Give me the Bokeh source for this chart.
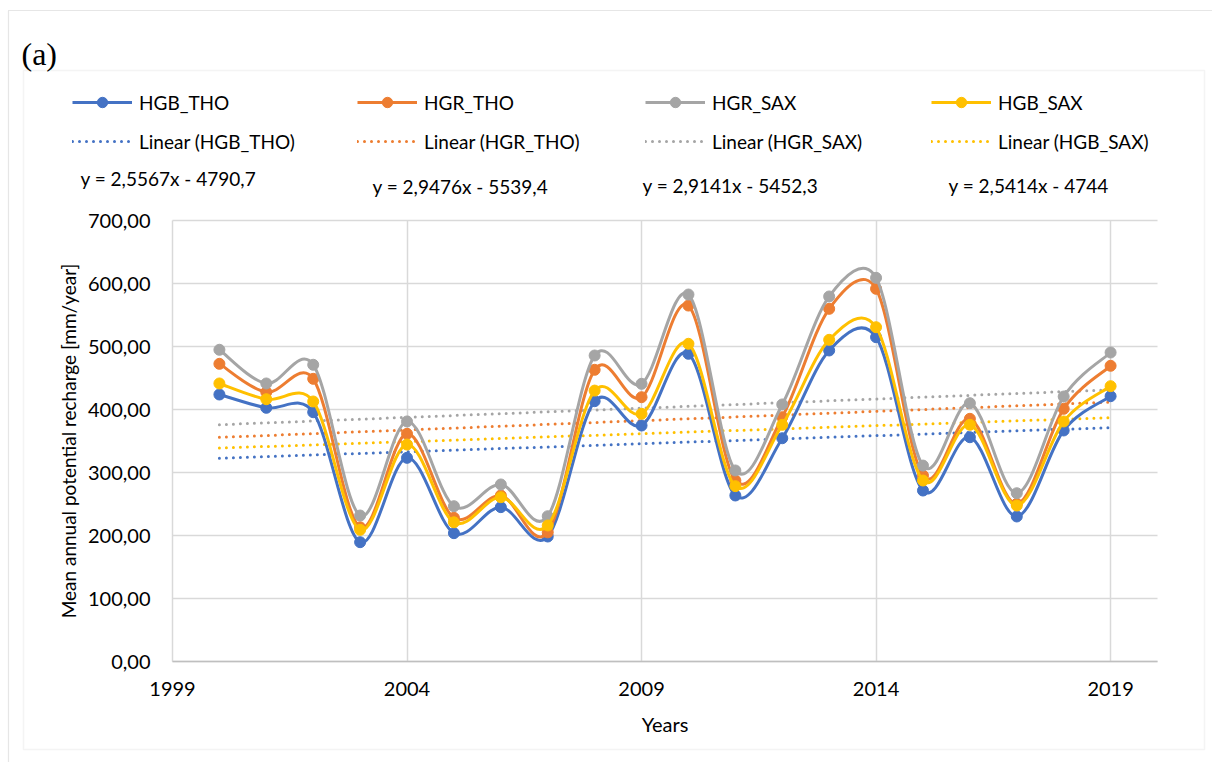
import numpy as np
from bokeh.plotting import figure
from bokeh.models import (FixedTicker, Legend, LegendItem, Label, BoxAnnotation, Range1d)
from bokeh.embed import file_html
from bokeh.resources import INLINE

# ---- data -------------------------------------------------------------
years = list(range(2000, 2020))

hgb_tho = [423.8, 402.7, 395.7, 189.4, 323.3, 203.7, 245.0, 198.4, 413.2, 374.6,
           488.4, 263.5, 354.4, 493.7, 514.8, 271.4, 356.0, 230.2, 366.7, 421.1]
hgr_tho = [472.5, 427.5, 448.7, 213.0, 361.4, 228.0, 263.5, 205.0, 463.0, 419.5,
           565.0, 287.3, 387.8, 559.8, 591.6, 295.2, 385.2, 250.3, 401.1, 469.4]
hgr_sax = [494.8, 441.3, 471.0, 231.7, 381.0, 246.5, 281.0, 230.6, 485.7, 440.8,
           582.5, 303.2, 408.0, 579.4, 609.0, 311.0, 410.0, 267.1, 420.6, 490.5]
hgb_sax = [441.3, 416.3, 412.7, 209.0, 344.4, 221.0, 260.8, 215.9, 430.0, 393.2,
           504.3, 278.3, 375.7, 510.6, 530.6, 287.3, 375.7, 247.6, 381.0, 437.0]

series_names = ["HGB_THO", "HGR_THO", "HGR_SAX", "HGB_SAX"]
series_values = [hgb_tho, hgr_tho, hgr_sax, hgb_sax]
series_colors = ["#4472C4", "#ED7D31", "#A5A5A5", "#FFC000"]

# linear trend lines  y = a*x + b
trend_slopes = [2.5567, 2.9476, 2.9141, 2.5414]
trend_intercepts = [-4790.7, -5539.4, -5452.3, -4744.0]
equation_labels = ["y = 2,5567x - 4790,7", "y = 2,9476x - 5539,4",
                   "y = 2,9141x - 5452,3", "y = 2,5414x - 4744"]

x_ticks = [1999, 2004, 2009, 2014, 2019]
x_tick_labels = ["1999", "2004", "2009", "2014", "2019"]
y_ticks = [0, 100, 200, 300, 400, 500, 600, 700]
y_tick_labels = ["0,00", "100,00", "200,00", "300,00", "400,00", "500,00", "600,00", "700,00"]

X_MIN, X_MAX = 1999, 2020
Y_MIN, Y_MAX = 0, 700

# ---- styling / page geometry (pixels) ----------------------------------
FONT = "Lato"
TEXT_SIZE = "19px"
TICK_SIZE = "20px"
W, H = 1212, 762
PLOT_L, PLOT_R, PLOT_T, PLOT_B = 172, 1157, 220, 661      # plot area on the page
BOX_L, BOX_R, BOX_T, BOX_B = 23, 1204, 70, 749             # chart area outline
PAGE_L, PAGE_T = 8, 10                                     # dotted page edge

# the drawing frame covers the whole page; the data ranges are extended so the
# axis span lands on the plot area
px_per_x = (PLOT_R - PLOT_L) / (X_MAX - X_MIN)
px_per_y = (PLOT_B - PLOT_T) / (Y_MAX - Y_MIN)
x_range = Range1d(X_MIN - PLOT_L / px_per_x, X_MAX + (W - PLOT_R) / px_per_x)
y_range = Range1d(Y_MIN - (H - PLOT_B) / px_per_y, Y_MAX + PLOT_T / px_per_y)


def smooth_segments(xs, ys, f=1.0 / 6.0):
    """Bezier control points of a smoothed polyline (Catmull-Rom tangents,
    limited to half of the segment length on screen)."""
    x = np.asarray(xs, dtype=float)
    y = np.asarray(ys, dtype=float)
    n = len(x)
    i = np.arange(n - 1)
    prev = np.maximum(i - 1, 0)
    nxt = np.minimum(i + 2, n - 1)
    seg = np.hypot((x[i + 1] - x[i]) * px_per_x, (y[i + 1] - y[i]) * px_per_y)

    def limited(dx, dy):
        length = np.hypot(dx * px_per_x, dy * px_per_y)
        scale = np.where(length > seg / 2, (seg / 2) / np.maximum(length, 1e-9), 1.0)
        return dx * scale, dy * scale

    t0x, t0y = limited((x[i + 1] - x[prev]) * f, (y[i + 1] - y[prev]) * f)
    t1x, t1y = limited((x[nxt] - x[i]) * f, (y[nxt] - y[i]) * f)
    return dict(x0=x[i], y0=y[i], x1=x[i + 1], y1=y[i + 1],
                cx0=x[i] + t0x, cy0=y[i] + t0y,
                cx1=x[i + 1] - t1x, cy1=y[i + 1] - t1y)


p = figure(width=W, height=H, output_backend="svg", toolbar_location=None,
           x_range=x_range, y_range=y_range, min_border=0)
p.outline_line_color = None
p.background_fill_color = "white"
p.border_fill_color = "white"

# ---- axes & grid --------------------------------------------------------
p.xaxis.fixed_location = Y_MIN
p.xaxis.bounds = (X_MIN, X_MAX)
p.yaxis.fixed_location = X_MIN
p.yaxis.bounds = (Y_MIN, Y_MAX)

p.xaxis.ticker = FixedTicker(ticks=x_ticks)
p.xaxis.major_label_overrides = dict(zip(x_ticks, x_tick_labels))
p.yaxis.ticker = FixedTicker(ticks=y_ticks)
p.yaxis.major_label_overrides = dict(zip(y_ticks, y_tick_labels))
p.xgrid.ticker = FixedTicker(ticks=x_ticks)
p.ygrid.ticker = FixedTicker(ticks=y_ticks)
p.xgrid.bounds = (X_MIN, X_MAX)
p.xgrid.cross_bounds = (Y_MIN, Y_MAX)
p.ygrid.bounds = (Y_MIN, Y_MAX)
p.ygrid.cross_bounds = (X_MIN, X_MAX)

for g in (p.xgrid, p.ygrid):
    g.grid_line_color = "#D9D9D9"
    g.grid_line_width = 1.5

for ax in (p.xaxis, p.yaxis):
    ax.major_tick_line_color = None
    ax.minor_tick_line_color = None
    ax.major_tick_out = 0
    ax.major_tick_in = 0
    ax.minor_tick_out = 0
    ax.major_label_text_font = FONT
    ax.major_label_text_font_size = TICK_SIZE
    ax.major_label_text_color = "black"
    ax.axis_label_text_font = FONT
    ax.axis_label_text_font_style = "normal"
    ax.axis_label_text_color = "black"

p.xaxis.axis_line_color = "#BFBFBF"
p.xaxis.axis_line_width = 1.5
p.xaxis.major_label_standoff = 20
p.xaxis.axis_label = "Years"
p.xaxis.axis_label_text_font_size = TICK_SIZE
p.xaxis.axis_label_standoff = 13

p.yaxis.axis_line_color = None
p.yaxis.major_label_standoff = 22
p.yaxis.axis_label = "Mean annual potential recharge [mm/year]"
p.yaxis.axis_label_text_font_size = "19px"
p.yaxis.axis_label_standoff = 5

# ---- chart area outline and dotted page edge ----------------------------
p.add_layout(BoxAnnotation(left=BOX_L, right=BOX_R, top=H - BOX_T, bottom=H - BOX_B,
                           left_units="screen", right_units="screen",
                           top_units="screen", bottom_units="screen",
                           fill_alpha=0, line_color="#D9D9D9", line_width=1.5,
                           level="underlay"))
p.add_layout(BoxAnnotation(left=PAGE_L, right=W + 20, top=H - PAGE_T, bottom=-20,
                           left_units="screen", right_units="screen",
                           top_units="screen", bottom_units="screen",
                           fill_alpha=0, line_color="#595959", line_width=1.2,
                           line_dash="1 1", level="underlay"))

# ---- trend lines first, so the series sit on top of them -----------------
trend_x = np.array([years[0], years[-1]], dtype=float)
TREND_STYLE = dict(line_width=3, line_dash="0 7", line_cap="round")
trend_renderers = []
for a, b, c in zip(trend_slopes, trend_intercepts, series_colors):
    trend_renderers.append(p.line(trend_x, a * trend_x + b, line_color=c, **TREND_STYLE))

marker_renderers, swatch_renderers = [], []
for vals, c in zip(series_values, series_colors):
    p.bezier(line_color=c, line_width=3, **smooth_segments(years, vals))
    marker_renderers.append(p.scatter(years, vals, size=11, fill_color=c, line_color=c))
    # straight line used only as the legend swatch
    swatch_renderers.append(p.line(years, vals, line_color=c, line_width=3, visible=False))

# ---- legend: four columns of two entries --------------------------------
legend_col_x = [72, 357, 645, 931]
LEGEND_ROW1, LEGEND_ROW2 = 102, 141
GLYPH_H = 26
for name, sw, m, tr, lx in zip(series_names, swatch_renderers, marker_renderers,
                               trend_renderers, legend_col_x):
    legend_bottom = LEGEND_ROW2 + GLYPH_H / 2
    lg = Legend(items=[LegendItem(label=name, renderers=[sw, m]),
                       LegendItem(label=f"Linear ({name})", renderers=[tr])],
                location=(lx, H - legend_bottom), orientation="vertical",
                glyph_width=60, glyph_height=GLYPH_H, label_height=GLYPH_H,
                label_standoff=7, spacing=LEGEND_ROW2 - LEGEND_ROW1 - GLYPH_H,
                padding=0, margin=0, border_line_color=None, background_fill_alpha=0,
                label_text_font=FONT, label_text_font_size=TEXT_SIZE,
                label_text_color="black")
    p.add_layout(lg)

# trend equations
eq_x = [80, 372, 642, 948]
eq_y = [178, 186, 185, 185]
for txt, ex, ey in zip(equation_labels, eq_x, eq_y):
    p.add_layout(Label(x=ex, y=H - ey, x_units="screen", y_units="screen",
                       text=txt, text_baseline="middle", text_font=FONT,
                       text_font_size=TEXT_SIZE, text_color="black"))

# panel tag
p.add_layout(Label(x=21, y=H - 53, x_units="screen", y_units="screen", text="(a)",
                   text_baseline="middle", text_font="Liberation Serif",
                   text_font_size="32px", text_color="black"))

open("out.html", "w").write(file_html(p, INLINE))
